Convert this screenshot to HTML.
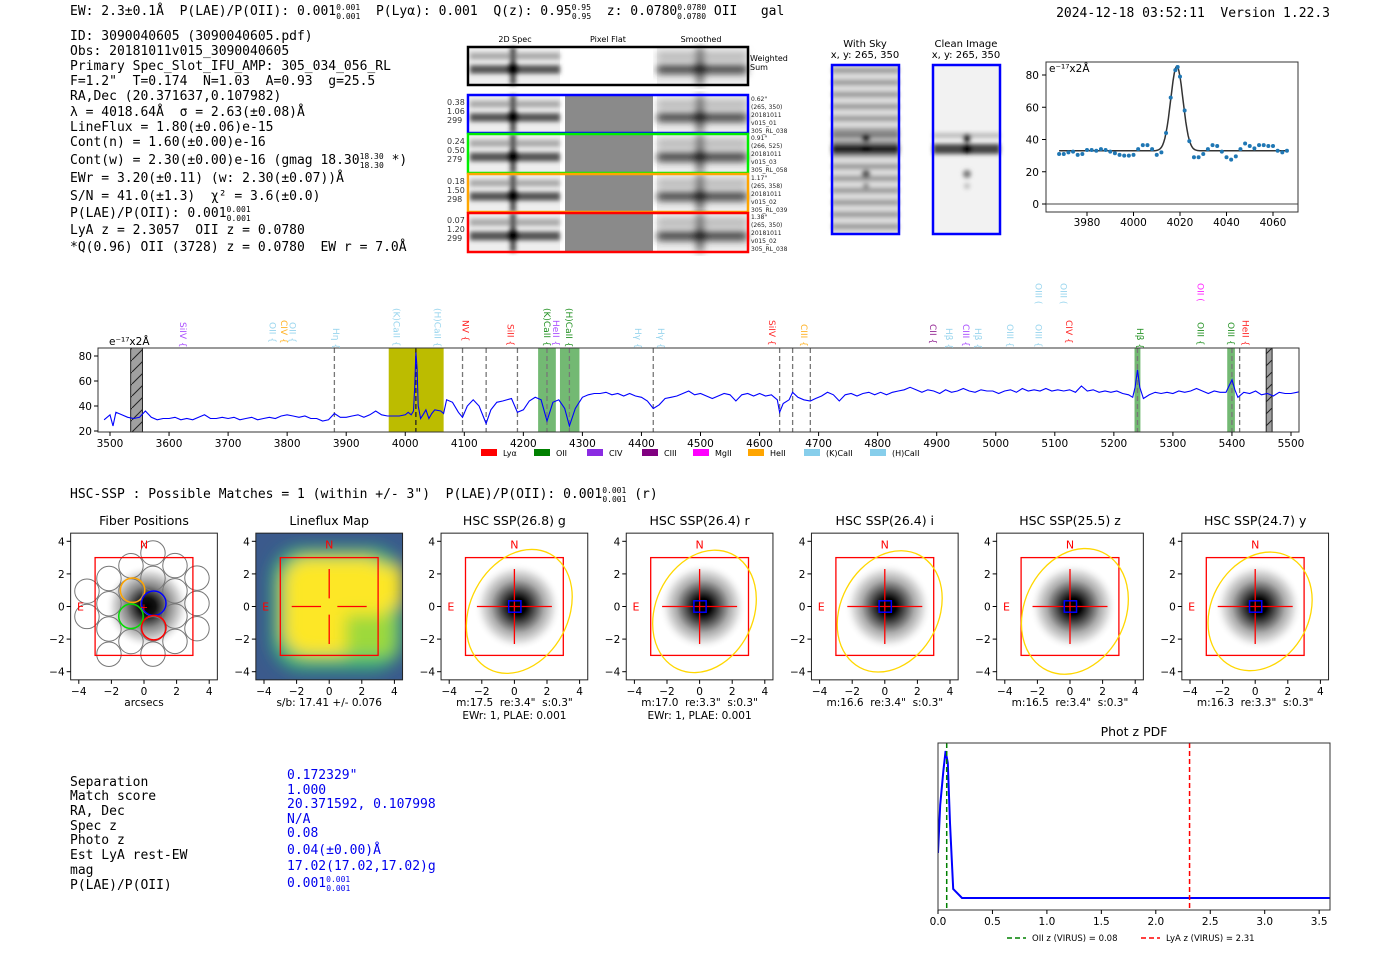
<!DOCTYPE html>
<html><head><meta charset="utf-8"><style>
html,body{margin:0;padding:0;background:#fff;}
svg{display:block;}
text{white-space:pre;}
.m{font-family:"DejaVu Sans Mono","Liberation Mono",monospace;font-size:13px;fill:#000;}
.s{font-family:"DejaVu Sans","Liberation Sans",sans-serif;}
.t{font-family:"DejaVu Sans","Liberation Sans",sans-serif;font-size:10.5px;fill:#000;}
</style></head><body>
<svg id="root" width="1400" height="953" viewBox="0 0 1400 953" xmlns="http://www.w3.org/2000/svg" xml:space="preserve">
<defs>
<filter id="bl2"><feGaussianBlur stdDeviation="2"/></filter>
<filter id="bl4"><feGaussianBlur stdDeviation="4"/></filter>
<filter id="bl8"><feGaussianBlur stdDeviation="8"/></filter>
<pattern id="hatch" width="12" height="12" patternUnits="userSpaceOnUse"><rect width="12" height="12" fill="#a0a0a0"/><path d="M0,12 L12,0" stroke="#222" stroke-width="1"/></pattern>
<radialGradient id="psf"><stop offset="0" stop-color="#000"/><stop offset="0.18" stop-color="#000"/><stop offset="0.35" stop-color="#444"/><stop offset="0.6" stop-color="#aaa"/><stop offset="0.85" stop-color="#eee"/><stop offset="1" stop-color="#fff" stop-opacity="0"/></radialGradient>
<radialGradient id="psf1"><stop offset="0" stop-color="#000"/><stop offset="0.2" stop-color="#111"/><stop offset="0.5" stop-color="#888"/><stop offset="0.8" stop-color="#ddd"/><stop offset="1" stop-color="#fff" stop-opacity="0"/></radialGradient>
<clipPath id="specclip"><rect x="98" y="348" width="1201" height="84"/></clipPath>
<clipPath id="pdfclip"><rect x="938" y="743" width="392" height="167"/></clipPath>
</defs>

<text class="m" x="70" y="15">EW: 2.3±0.1Å  P(LAE)/P(OII): 0.001<tspan font-size="8" dy="-5">0.001</tspan><tspan font-size="8" dx="-24" dy="9">0.001</tspan><tspan dy="-4">  P(Lyα): 0.001  Q(z): 0.95</tspan><tspan font-size="8" dy="-5">0.95</tspan><tspan font-size="8" dx="-19" dy="9">0.95</tspan><tspan dy="-4">  z: 0.0780</tspan><tspan font-size="8" dy="-5">0.0780</tspan><tspan font-size="8" dx="-29" dy="9">0.0780</tspan><tspan dy="-4"> OII   gal</tspan></text>
<text class="m" x="1330" y="17" text-anchor="end">2024-12-18 03:52:11  Version 1.22.3</text>

<g>
<text class="m" x="70" y="40">ID: 3090040605 (3090040605.pdf)</text>
<text class="m" x="70" y="55">Obs: 20181011v015_3090040605</text>
<text class="m" x="70" y="70">Primary Spec_Slot_IFU_AMP: 305_034_056_RL</text>
<text class="m" x="70" y="85">F=1.2"  T=0.174  N=1.03  A=0.93  g=25.5</text>
<text class="m" x="70" y="100">RA,Dec (20.371637,0.107982)</text>
<text class="m" x="70" y="116">λ = 4018.64Å  σ = 2.63(±0.08)Å</text>
<text class="m" x="70" y="131">LineFlux = 1.80(±0.06)e-15</text>
<text class="m" x="70" y="146">Cont(n) = 1.60(±0.00)e-16</text>
<text class="m" x="70" y="164">Cont(w) = 2.30(±0.00)e-16 (gmag 18.30<tspan font-size="8" dy="-5">18.30</tspan><tspan font-size="8" dx="-24" dy="9">18.30</tspan><tspan dy="-4"> *)</tspan></text>
<text class="m" x="70" y="182">EWr = 3.20(±0.11) (w: 2.30(±0.07))Å</text>
<text class="m" x="70" y="200">S/N = 41.0(±1.3)  χ² = 3.6(±0.0)</text>
<text class="m" x="70" y="217">P(LAE)/P(OII): 0.001<tspan font-size="8" dy="-5">0.001</tspan><tspan font-size="8" dx="-24" dy="9">0.001</tspan></text>
<text class="m" x="70" y="234">LyA z = 2.3057  OII z = 0.0780</text>
<text class="m" x="70" y="251">*Q(0.96) OII (3728) z = 0.0780  EW r = 7.0Å</text>
</g>

<g id="cutouts">
<text class="s" font-size="8" x="515" y="42" text-anchor="middle">2D Spec</text>
<text class="s" font-size="8" x="608" y="42" text-anchor="middle">Pixel Flat</text>
<text class="s" font-size="8" x="701" y="42" text-anchor="middle">Smoothed</text>
<text class="s" font-size="8" x="750" y="61">Weighted</text>
<text class="s" font-size="8" x="750" y="70">Sum</text>
</g>

<g id="skyimgs">
<text class="s" font-size="10" x="865" y="47" text-anchor="middle">With Sky</text>
<text class="s" font-size="10" x="865" y="58" text-anchor="middle">x, y: 265, 350</text>
<text class="s" font-size="10" x="966" y="47" text-anchor="middle">Clean Image</text>
<text class="s" font-size="10" x="966" y="58" text-anchor="middle">x, y: 265, 350</text>
</g>

<g id="fitplot"></g>
<g id="spec"></g>

<text class="m" x="70" y="498">HSC-SSP : Possible Matches = 1 (within +/- 3")  P(LAE)/P(OII): 0.001<tspan font-size="8" dy="-5">0.001</tspan><tspan font-size="8" dx="-24" dy="9">0.001</tspan><tspan dy="-4"> (r)</tspan></text>

<g id="panels"></g>

<g>
<text class="m" x="70" y="786">Separation</text>
<text class="m" x="70" y="800">Match score</text>
<text class="m" x="70" y="815">RA, Dec</text>
<text class="m" x="70" y="830">Spec z</text>
<text class="m" x="70" y="844">Photo z</text>
<text class="m" x="70" y="859">Est LyA rest-EW</text>
<text class="m" x="70" y="874">mag</text>
<text class="m" x="70" y="889">P(LAE)/P(OII)</text>
<text class="m" style="fill:#0000ee" x="287" y="779">0.172329"</text>
<text class="m" style="fill:#0000ee" x="287" y="794">1.000</text>
<text class="m" style="fill:#0000ee" x="287" y="808">20.371592, 0.107998</text>
<text class="m" style="fill:#0000ee" x="287" y="823">N/A</text>
<text class="m" style="fill:#0000ee" x="287" y="837">0.08</text>
<text class="m" style="fill:#0000ee" x="287" y="854">0.04(±0.00)Å</text>
<text class="m" style="fill:#0000ee" x="287" y="870">17.02(17.02,17.02)g</text>
<text class="m" style="fill:#0000ee" x="287" y="887">0.001<tspan font-size="8" dy="-5">0.001</tspan><tspan font-size="8" dx="-24" dy="9">0.001</tspan></text>
</g>

<g id="pdf"></g>
</svg>

<script>
const specWave = [3490,3500,3505,3510,3520,3530,3540,3550,3560,3570,3580,3590,3600,3610,3620,3630,3640,3650,3660,3670,3680,3690,3700,3710,3720,3730,3740,3750,3760,3770,3780,3790,3800,3810,3820,3830,3840,3850,3860,3870,3880,3890,3900,3910,3920,3930,3940,3950,3960,3970,3980,3990,4000,4005,4010,4014,4016,4018,4020,4022,4026,4030,4035,4040,4045,4050,4060,4065,4070,4080,4090,4097,4105,4115,4125,4137,4145,4155,4165,4180,4190,4200,4210,4220,4230,4240,4250,4260,4270,4278,4288,4300,4310,4320,4330,4340,4350,4360,4370,4380,4390,4400,4410,4420,4430,4440,4450,4460,4470,4480,4490,4500,4510,4520,4530,4540,4550,4560,4570,4580,4590,4600,4610,4620,4630,4634,4640,4650,4656,4665,4675,4686,4695,4705,4715,4725,4735,4745,4755,4765,4775,4785,4795,4805,4815,4825,4835,4845,4855,4865,4875,4885,4895,4905,4915,4925,4935,4945,4955,4965,4975,4985,4995,5005,5015,5025,5035,5045,5055,5065,5075,5085,5095,5105,5115,5125,5135,5145,5155,5165,5175,5185,5195,5205,5215,5225,5232,5236,5240,5244,5250,5260,5270,5280,5290,5300,5310,5320,5330,5340,5350,5360,5370,5380,5390,5395,5400,5405,5410,5420,5430,5440,5450,5460,5470,5480,5490,5500,5510,5520];
const specFlux = [29,33,24,35,33,31,30,31,36,31,29,30,30,31,29,30,29,31,33,30,30,31,30,31,29,30,31,29,30,31,30,32,33,32,31,32,30,30,28,29,34,31,31,32,33,31,33,36,33,32,32,32,33,35,33,36,55,83,70,40,30,33,37,30,34,37,36,34,45,43,35,31,40,45,40,26,37,43,44,46,35,37,44,47,45,28,43,45,38,24,38,47,49,50,50,51,49,50,48,50,48,47,44,38,41,46,47,48,50,52,49,50,48,46,48,50,49,44,49,50,48,50,48,49,45,35,42,45,51,47,45,44,46,48,51,49,44,49,50,48,50,51,49,51,49,51,52,53,55,53,51,53,52,50,53,51,52,54,52,51,53,52,52,50,52,53,51,54,52,53,52,54,52,53,52,53,51,56,52,53,51,52,51,52,50,49,47,55,69,55,46,49,51,50,51,50,52,51,52,54,52,50,52,51,51,56,61,53,47,51,50,52,49,50,48,51,50,50,51,52];
const specXTicks = [3500,3600,3700,3800,3900,4000,4100,4200,4300,4400,4500,4600,4700,4800,4900,5000,5100,5200,5300,5400,5500];
const specYTicks = [20,40,60,80];
const lineMarks = [3880,4018,4097,4137,4190,4240,4278,4420,4634,4656,4686,5240,5400,5413];
const bandStart = [3972,4225,4262,5235,5392];
const bandEnd = [4065,4255,4295,5245,5405];
const bandColor = ["#bcbc00","#5aad5a","#5aad5a","#5aad5a","#5aad5a"];
const maskStart = [3535,5458];
const maskEnd = [3555,5468];
const labelWave = [3624,3775,3795,3809,3883,3985,4055,4102,4178,4240,4255,4277,4394,4433,4621,4675,4894,4921,4950,4970,5024,5072,5072,5115,5124,5244,5347,5347,5398,5423];
const labelText = ["SiIV {","OII {","CIV {","OII {","Hη {","(K)CaII {","(H)CaII {","NV {","SiII {","(K)CaII {","HeII {","(H)CaII {","Hγ {","Hγ {","SiIV {","CIII {","CII {","Hβ {","CIII {","Hβ {","OIII {","OIII {","OIII (","OIII (","CIV {","Hβ {","OIII {","OII (","OIII {","HeII {"];
const labelColor = ["#9b30ff","#87ceeb","#ffa500","#87ceeb","#87ceeb","#87ceeb","#87ceeb","#ff0000","#ff0000","#008000","#9b30ff","#008000","#87ceeb","#87ceeb","#ff0000","#ffa500","#800080","#87ceeb","#9b30ff","#87ceeb","#87ceeb","#87ceeb","#87ceeb","#87ceeb","#ff0000","#008000","#008000","#ff00ff","#008000","#ff0000"];
const labelTop = [322,322,320,322,328,308,308,320,324,308,320,308,328,328,320,324,324,328,324,328,324,324,283,283,320,328,322,283,322,320];
const legendNames = ["Lyα","OII","CIV","CIII","MgII","HeII","(K)CaII","(H)CaII"];
const legendColors = ["#ff0000","#008000","#8a2be2","#800080","#ff00ff","#ffa500","#87ceeb","#87ceeb"];

const fitWave = [3968,3970,3972,3974,3976,3978,3980,3982,3984,3986,3988,3990,3992,3994,3996,3998,4000,4002,4004,4006,4008,4010,4012,4014,4016,4018,4019,4020,4022,4024,4026,4028,4030,4032,4034,4036,4038,4040,4042,4044,4046,4048,4050,4052,4054,4056,4058,4060,4062,4064,4066];
const fitFlux = [31,31,32,32.5,30.5,31,33.5,33.5,33,34,33.5,32.5,31.5,30.5,30,30,30.5,34,36.5,36.5,34,30.5,32,44,66,83,85,79,58,39,29,29,31,34,36.5,36,32.5,29,27.5,29.5,34,37.5,36,34.5,36.5,36.5,36,36,33,32,33];
const fitCenter = 4018.64, fitSigma = 2.63, fitAmp = 52.5, fitCont = 33;
const fitXTicks = [3980,4000,4020,4040,4060];
const fitYTicks = [0,20,40,60,80];

const pdfZ = [0,0.02,0.05,0.07,0.09,0.11,0.14,0.22,1.0,2.0,3.6];
const pdfP = [0.3,0.62,0.85,0.98,0.9,0.5,0.06,0.0,0.0,0.0,0.0];
const pdfXTicks = [0,0.5,1.0,1.5,2.0,2.5,3.0,3.5];
const oiiZ = 0.08, lyaZ = 2.31;

const panelTitles = ["Fiber Positions","Lineflux Map","HSC SSP(26.8) g","HSC SSP(26.4) r","HSC SSP(26.4) i","HSC SSP(25.5) z","HSC SSP(24.7) y"];
const panelSub1 = ["arcsecs","s/b: 17.41 +/- 0.076","m:17.5  re:3.4\"  s:0.3\"","m:17.0  re:3.3\"  s:0.3\"","m:16.6  re:3.4\"  s:0.3\"","m:16.5  re:3.4\"  s:0.3\"","m:16.3  re:3.3\"  s:0.3\""];
const panelSub2 = ["","","EWr: 1, PLAE: 0.001","EWr: 1, PLAE: 0.001","","",""];
const panelTicks = [-4,-2,0,2,4];
const ellRx = [3.0,3.0,3.0,3.1,3.0], ellRy = [4.0,3.9,3.9,4.0,3.8], ellAng = [28,25,28,25,28];

const NS = "http://www.w3.org/2000/svg";
function E(parent, tag, attrs, text){
  const el = document.createElementNS(NS, tag);
  for (const k in attrs) el.setAttribute(k, attrs[k]);
  if (text !== undefined) el.textContent = text;
  parent.appendChild(el);
  return el;
}
const font = '"DejaVu Sans","Liberation Sans",sans-serif';

(function(){
  const g = document.getElementById('cutouts');
  const rowY = [47,95,134,174,213], rowH = [38,38,39,38,39];
  const rowCol = ["#000","#0000ff","#00ee00","#ffa500","#ff0000"];
  const leftNums = [null,["0.38","1.06","299"],["0.24","0.50","279"],["0.18","1.50","298"],["0.07","1.20","299"]];
  const rightTxt = [null,["0.62\"","(265, 350)","20181011","v015_01","305_RL_038"],["0.91\"","(266, 525)","20181011","v015_03","305_RL_058"],["1.17\"","(265, 358)","20181011","v015_02","305_RL_039"],["1.38\"","(265, 350)","20181011","v015_02","305_RL_038"]];
  for (let r=0;r<5;r++){
    const y=rowY[r], h=rowH[r];
    [[470,90,0],[657,90,1]].forEach(([x,w,sm])=>{
      const img = E(g,'g',{});
      
      
      E(img,'rect',{x:x,y:y+1,width:w,height:h-2,fill:'#eee'});
      const f = E(img,'g',{filter: sm?'url(#bl4)':'url(#bl2)'});
      E(f,'rect',{x:x,y:y+h*0.15,width:w,height:h*0.18,fill:'#aaa'});
      E(f,'rect',{x:x,y:y+h*0.48,width:w,height:h*0.22,fill: sm?'#333':'#555'});
      E(f,'rect',{x:x+40,y:y,width:6,height:h,fill:'#555'});
      E(f,'circle',{cx:x+43,cy:y+h*0.58,r:6,fill:'#000'});
    });
    const pf = E(g,'rect',{x:565,y:y+1,width:88,height:h-2,fill: r===0?'#fff':'#8a8a8a'});
    
    
    const fr = E(g,'rect',{x:468,y:y,width:280,height:h,fill:'none',stroke:rowCol[r],'stroke-width':2.5});
    
    
    if (leftNums[r]) leftNums[r].forEach((t,i)=>{ E(g,'text',{x:447,y:y+10+i*9,'font-size':8,'font-family':font,fill:'#333'},t); });
    if (rightTxt[r]) rightTxt[r].forEach((t,i)=>{ E(g,'text',{x:751,y:y+6+i*8,'font-size':6,'font-family':font,fill:'#222'},t); });
  }
})();

(function(){
  const g = document.getElementById('skyimgs');
  [[832,0],[933,1]].forEach(([x,clean])=>{
    const img = E(g,'g',{});
    
    
    E(img,'rect',{x:x,y:65,width:67,height:169,fill: clean?'#f2f2f2':'#ddd'});
    const f = E(img,'g',{filter:'url(#bl2)'});
    for (let k=0;k<14;k++){
      if(!clean) E(f,'rect',{x:x,y:68+k*12,width:67,height:5,fill:'#999'});
    }
    E(f,'rect',{x:x,y:144,width:67,height:10,fill: clean?'#444':'#222'});
    E(f,'rect',{x:x,y:133,width:67,height:5,fill: clean?'#bbb':'#777'});
    E(f,'circle',{cx:x+34,cy:149,r:5,fill:'#000'});
    E(f,'circle',{cx:x+34,cy:138,r:4,fill:'#111'});
    E(f,'circle',{cx:x+34,cy:174,r:4,fill: clean?'#777':'#555'});
    E(f,'circle',{cx:x+34,cy:186,r:3,fill: clean?'#bbb':'#888'});
    E(img,'rect',{x:x,y:65,width:67,height:169,fill:'none',stroke:'#0000ff','stroke-width':2.5});
  });
})();

(function(){
  const g = document.getElementById('fitplot');
  const X0=1046,X1=1298,Y0=62,Y1=212;
  const sx = w => 1087 + (w-3980)*2.325;
  const sy = v => 204 - v*1.6125;
  E(g,'rect',{x:X0,y:Y0,width:X1-X0,height:Y1-Y0,fill:'#fff',stroke:'#333','stroke-width':1});
  E(g,'line',{x1:X0,x2:X1,y1:sy(0),y2:sy(0),stroke:'#444','stroke-width':1});
  fitXTicks.forEach(t=>{ E(g,'line',{x1:sx(t),x2:sx(t),y1:Y1,y2:Y1+4,stroke:'#000'}); E(g,'text',{x:sx(t),y:Y1+14,'text-anchor':'middle',class:'t'},t); });
  fitYTicks.forEach(t=>{ E(g,'line',{x1:X0-4,x2:X0,y1:sy(t),y2:sy(t),stroke:'#000'}); E(g,'text',{x:X0-7,y:sy(t)+4,'text-anchor':'end',class:'t'},t); });
  E(g,'text',{x:X0+3,y:Y0+10,class:'t','font-size':9},'e⁻¹⁷x2Å');
  let d='';
  for (let w=3968; w<=4066; w+=0.5){
    const v = fitCont + fitAmp*Math.exp(-0.5*Math.pow((w-fitCenter)/fitSigma,2));
    d += (d?'L':'M')+sx(w).toFixed(1)+','+sy(v).toFixed(1);
  }
  const curve = E(g,'path',{d:d,fill:'none',stroke:'#333','stroke-width':1.5});
  
  
  fitWave.forEach((w,i)=>{
    const p = E(g,'circle',{cx:sx(w),cy:sy(fitFlux[i]),r:2,fill:'#1f77b4'});
    
    
  });
})();

(function(){
  const g = document.getElementById('spec');
  const X0=98,X1=1299,Y0=348,Y1=432;
  const sx = w => 110 + (w-3500)*0.5905;
  const sy = v => 431 - (v-20)*1.25;
  E(g,'rect',{x:X0,y:Y0,width:X1-X0,height:Y1-Y0,fill:'#fff'});
  bandStart.forEach((b,i)=>{
    const r = E(g,'rect',{x:sx(b),y:Y0,width:sx(bandEnd[i])-sx(b),height:Y1-Y0,fill:bandColor[i],opacity: i===0?1:0.85});
    
    
  });
  maskStart.forEach((b,i)=>{
    const r = E(g,'rect',{x:sx(b),y:Y0,width:sx(maskEnd[i])-sx(b),height:Y1-Y0,fill:'url(#hatch)',stroke:'#222'});
    
    
  });
  lineMarks.forEach(w=>{
    const l = E(g,'line',{x1:sx(w),x2:sx(w),y1:Y0,y2:Y1,stroke: w===4018?'#222':'#777','stroke-width':1.3,'stroke-dasharray':'5,3'});
    
    
  });
  let d='';
  specWave.forEach((w,i)=>{ d += (i?'L':'M')+sx(w).toFixed(1)+','+sy(specFlux[i]).toFixed(1); });
  const cg = E(g,'g',{'clip-path':'url(#specclip)'});
  const sp = E(cg,'path',{d:d,fill:'none',stroke:'#0000ff','stroke-width':1.1});
  
  
  E(g,'rect',{x:X0,y:Y0,width:X1-X0,height:Y1-Y0,fill:'none',stroke:'#333','stroke-width':1});
  specXTicks.forEach(t=>{ E(g,'line',{x1:sx(t),x2:sx(t),y1:Y1,y2:Y1+4,stroke:'#000'}); E(g,'text',{x:sx(t),y:Y1+15,'text-anchor':'middle',class:'t'},t); });
  specYTicks.forEach(t=>{ E(g,'line',{x1:X0-4,x2:X0,y1:sy(t),y2:sy(t),stroke:'#000'}); E(g,'text',{x:X0-6,y:sy(t)+4,'text-anchor':'end',class:'t'},t); });
  E(g,'text',{x:109,y:345,class:'t','font-size':9.5},'e⁻¹⁷x2Å');
  labelWave.forEach((w,i)=>{
    const x = sx(w);
    const t = E(g,'text',{x:0,y:0,transform:`translate(${x-3},${labelTop[i]}) rotate(90)`,'font-size':9,'font-family':font,fill:labelColor[i],opacity:0.85},labelText[i]);
    
    
  });
  const lx = [481,534,587,642,693,748,804,870];
  legendNames.forEach((n,i)=>{
    const lg = E(g,'g',{});
    
    
    E(lg,'rect',{x:lx[i],y:449,width:16,height:7,fill:legendColors[i]});
    E(lg,'text',{x:lx[i]+22,y:456,'font-size':8,'font-family':font,fill:'#000'},n);
  });
})();

(function(){
  const g = document.getElementById('panels');
  const S = 16.3, CY = 606.5, H = 4.5*S;
  panelTitles.forEach((title,i)=>{
    const cx = 144 + 185.2*i;
    const p = E(g,'g',{});
    
    
    const clipId='pc'+i;
    const cp = E(p,'clipPath',{id:clipId}); E(cp,'rect',{x:cx-H,y:CY-H,width:2*H,height:2*H});
    const inner = E(p,'g',{'clip-path':`url(#${clipId})`});
    const X = u => cx + u*S, Y = v => CY - v*S;
    if (i===1){
      E(inner,'rect',{x:cx-H,y:CY-H,width:2*H,height:2*H,fill:'#3b5a8c'});
      const f = E(inner,'g',{filter:'url(#bl8)'});
      E(f,'rect',{x:X(-3.5),y:Y(3.6),width:8*S,height:7.5*S,rx:30,fill:'#35b779'});
      E(f,'rect',{x:X(-2.8),y:Y(3),width:6.5*S,height:6*S,rx:25,fill:'#fde725'});
      E(f,'rect',{x:X(2.5),y:Y(2.5),width:2*S,height:2.5*S,fill:'#fde725'});
      E(f,'rect',{x:X(1),y:Y(-0.5),width:3*S,height:2.5*S,fill:'#9dd93a'});
    } else {
      E(inner,'rect',{x:cx-H,y:CY-H,width:2*H,height:2*H,fill:'#fff'});
      E(inner,'circle',{cx:X(0.2),cy:Y(0),r: i===0?2.6*S:2.7*S,fill: i===0?'url(#psf1)':'url(#psf)'});
    }
    if (i===0){
      for (let a=-4;a<=4;a++) for (let b=-4;b<=4;b++){
        const u = -0.8 + 1.35*b, v = -0.6 + 1.55*a + 0.78*b;
        if (u*u+v*v > 14) continue;
        const c = E(inner,'circle',{cx:X(u),cy:Y(v),r:0.75*S,fill:'none',stroke:'#777','stroke-width':1});
        
        
      }
      [[-0.7,1.0,'#ffa500'],[0.6,0.2,'#0000ff'],[-0.8,-0.6,'#00dd00'],[0.6,-1.3,'#ff0000']].forEach(([u,v,c])=>{
        const f = E(inner,'circle',{cx:X(u),cy:Y(v),r:0.75*S,fill:'none',stroke:c,'stroke-width':1.5});
        
        
      });
      E(inner,'text',{x:X(0),y:Y(0)+4,'text-anchor':'middle','font-size':10,fill:'#f00','font-family':font},'+');
    }
    E(inner,'rect',{x:X(-3),y:Y(3),width:6*S,height:6*S,fill:'none',stroke:'#ff0000','stroke-width':1.3});
    if (i===1){
      [[-2.3,-0.5],[0.5,2.3]].forEach(([a,b])=>E(inner,'line',{x1:X(a),x2:X(b),y1:Y(0),y2:Y(0),stroke:'#f00','stroke-width':1.3}));
      [[-2.3,-0.5],[0.5,2.3]].forEach(([a,b])=>E(inner,'line',{x1:X(0),x2:X(0),y1:Y(a),y2:Y(b),stroke:'#f00','stroke-width':1.3}));
    }
    if (i>=2){
      E(inner,'line',{x1:X(-2.3),x2:X(2.3),y1:Y(0),y2:Y(0),stroke:'#f00','stroke-width':1.3});
      E(inner,'line',{x1:X(0),x2:X(0),y1:Y(-2.3),y2:Y(2.3),stroke:'#f00','stroke-width':1.3});
      E(inner,'rect',{x:X(-0.35),y:Y(0.35),width:0.75*S,height:0.7*S,fill:'none',stroke:'#0000ff','stroke-width':1.5});
      const k=i-2;
      const el = E(inner,'ellipse',{cx:X(0.3),cy:Y(-0.3),rx:ellRx[k]*S,ry:ellRy[k]*S,fill:'none',stroke:'#ffd700','stroke-width':1.3,transform:`rotate(${ellAng[k]},${X(0.3)},${Y(-0.3)})`});
      
      
    }
    E(inner,'text',{x:X(0),y:Y(3.8)+4,'text-anchor':'middle','font-size':11,fill:'#f00','font-family':font},'N');
    E(inner,'text',{x:X(-3.9),y:Y(0)+4,'text-anchor':'middle','font-size':11,fill:'#f00','font-family':font},'E');
    E(p,'rect',{x:cx-H,y:CY-H,width:2*H,height:2*H,fill:'none',stroke:'#222','stroke-width':1});
    panelTicks.forEach(t=>{
      E(p,'line',{x1:X(t),x2:X(t),y1:CY+H,y2:CY+H+4,stroke:'#000'});
      E(p,'text',{x:X(t),y:CY+H+15,'text-anchor':'middle',class:'t'},t<0?'−'+(-t):t);
      E(p,'line',{x1:cx-H-4,x2:cx-H,y1:Y(t),y2:Y(t),stroke:'#000'});
      E(p,'text',{x:cx-H-6,y:Y(t)+4,'text-anchor':'end',class:'t'},t<0?'−'+(-t):t);
    });
    E(p,'text',{x:cx,y:525,'text-anchor':'middle','font-size':12.5,'font-family':font,fill:'#000'},title);
    E(p,'text',{x:cx,y:706,'text-anchor':'middle',class:'t'},panelSub1[i]);
    if (panelSub2[i]) E(p,'text',{x:cx,y:719,'text-anchor':'middle',class:'t'},panelSub2[i]);
  });
})();

(function(){
  const g = document.getElementById('pdf');
  const X0=938,X1=1330,Y0=743,Y1=910;
  const sx = z => 938 + z*108.9;
  const sy = p => 898 - p*150;
  E(g,'text',{x:1134,y:736,'text-anchor':'middle','font-size':12.5,'font-family':font,fill:'#000'},'Phot z PDF');
  E(g,'rect',{x:X0,y:Y0,width:X1-X0,height:Y1-Y0,fill:'#fff'});
  const cg = E(g,'g',{'clip-path':'url(#pdfclip)'});
  let d='';
  pdfZ.forEach((z,i)=>{ d += (i?'L':'M')+sx(z).toFixed(1)+','+sy(pdfP[i]).toFixed(1); });
  const c = E(cg,'path',{d:d,fill:'none',stroke:'#0000ff','stroke-width':2});
  
  
  const gl = E(cg,'line',{x1:sx(oiiZ),x2:sx(oiiZ),y1:Y0,y2:Y1,stroke:'#008000','stroke-width':1.5,'stroke-dasharray':'5,3'});
  
  
  const rl = E(cg,'line',{x1:sx(lyaZ),x2:sx(lyaZ),y1:Y0,y2:Y1,stroke:'#ff0000','stroke-width':1.5,'stroke-dasharray':'5,3'});
  
  
  E(g,'rect',{x:X0,y:Y0,width:X1-X0,height:Y1-Y0,fill:'none',stroke:'#333','stroke-width':1});
  pdfXTicks.forEach(t=>{ E(g,'line',{x1:sx(t),x2:sx(t),y1:Y1,y2:Y1+4,stroke:'#000'}); E(g,'text',{x:sx(t),y:Y1+15,'text-anchor':'middle',class:'t'},t.toFixed(1)); });
  const l1 = E(g,'g',{});
  
  
  E(l1,'line',{x1:1007,x2:1026,y1:938,y2:938,stroke:'#008000','stroke-width':1.5,'stroke-dasharray':'5,3'});
  E(l1,'text',{x:1032,y:941,'font-size':8.5,'font-family':font,fill:'#000'},'OII z (VIRUS) = 0.08');
  const l2 = E(g,'g',{});
  
  
  E(l2,'line',{x1:1141,x2:1160,y1:938,y2:938,stroke:'#ff0000','stroke-width':1.5,'stroke-dasharray':'5,3'});
  E(l2,'text',{x:1166,y:941,'font-size':8.5,'font-family':font,fill:'#000'},'LyA z (VIRUS) = 2.31');
})();
</script>
</body></html>
